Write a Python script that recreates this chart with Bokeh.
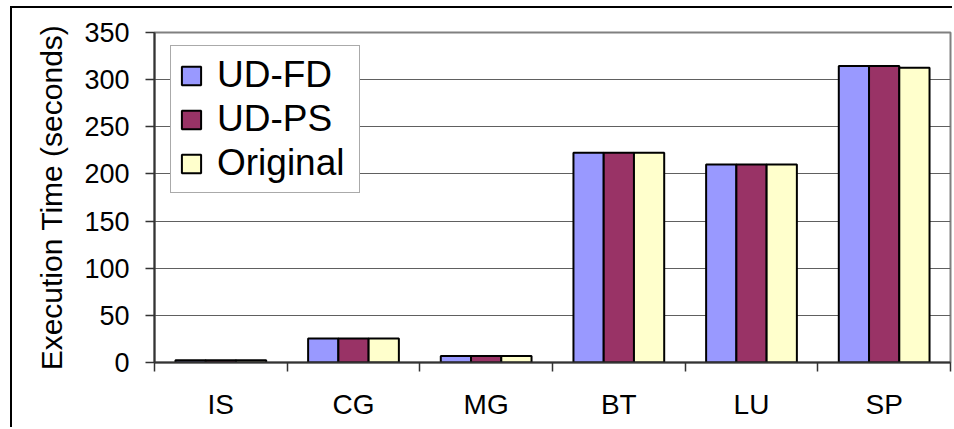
from bokeh.plotting import figure
from bokeh.models import FixedTicker, Legend, LegendItem, ColumnDataSource
from bokeh.embed import file_html
from bokeh.resources import INLINE

# NAS benchmark execution times (seconds)
benchmarks = ["IS", "CG", "MG", "BT", "LU", "SP"]
ud_fd = [2.5, 25.5, 6.8, 222.5, 210.0, 314.5]
ud_ps = [2.5, 25.5, 6.8, 222.5, 210.0, 314.5]
original = [2.5, 25.5, 6.8, 222.5, 210.0, 312.5]

series_names = ["UD-FD", "UD-PS", "Original"]
series_values = [ud_fd, ud_ps, original]
series_colors = ["#9999FF", "#993366", "#FFFFCC"]

y_ticks = [0, 50, 100, 150, 200, 250, 300, 350]

FONT = "Liberation Sans"
BAR_W = 0.228

p = figure(
    width=942, height=421,
    x_range=(0, len(benchmarks)), y_range=(0, 350),
    output_backend="svg", toolbar_location=None, tools="",
    min_border_left=142, min_border_right=4,
    min_border_top=24, min_border_bottom=67,
)
# chart area border (left and top edges visible in the window)
p.styles = {
    "margin-left": "10px", "margin-top": "6px",
    "border-left": "2px solid #000000", "border-top": "2px solid #000000",
}
p.background_fill_color = "white"
p.border_fill_color = "white"
p.outline_line_color = "#808080"
p.outline_line_width = 2

renderers = []
for k, (name, vals, col) in enumerate(zip(series_names, series_values, series_colors)):
    xs = [i + 0.5 + (k - 1) * BAR_W for i in range(len(benchmarks))]
    src = ColumnDataSource(dict(x=xs, top=vals))
    r = p.vbar(x="x", top="top", width=BAR_W, bottom=0, source=src,
               fill_color=col, line_color="black", line_width=2)
    renderers.append((name, r))

# y axis
p.yaxis.ticker = FixedTicker(ticks=y_ticks)
p.yaxis.axis_label = "Execution Time (seconds)"
p.yaxis.axis_label_text_font = FONT
p.yaxis.axis_label_text_font_size = "30px"
p.yaxis.axis_label_text_font_style = "normal"
p.yaxis.axis_label_text_color = "black"
p.yaxis.axis_label_standoff = 13
p.yaxis.major_label_text_font = FONT
p.yaxis.major_label_text_font_size = "27px"
p.yaxis.major_label_text_color = "black"
p.yaxis.major_label_standoff = 16
p.yaxis.major_tick_out = 9
p.yaxis.major_tick_in = 0
p.yaxis.minor_tick_line_color = None
p.yaxis.axis_line_color = "#333333"
p.yaxis.axis_line_width = 2
p.yaxis.major_tick_line_color = "#333333"
p.yaxis.major_tick_line_width = 1.5

# x axis: labels at category centres, ticks at category boundaries
centers = [i + 0.5 for i in range(len(benchmarks))]
bounds = list(range(len(benchmarks) + 1))
p.xaxis.ticker = FixedTicker(ticks=centers, minor_ticks=bounds)
p.xaxis.major_label_overrides = {c: b for c, b in zip(centers, benchmarks)}
p.xaxis.major_tick_line_color = None
p.xaxis.minor_tick_out = 9
p.xaxis.minor_tick_in = 0
p.xaxis.minor_tick_line_color = "#333333"
p.xaxis.minor_tick_line_width = 1.5
p.xaxis.major_label_text_font = FONT
p.xaxis.major_label_text_font_size = "28px"
p.xaxis.major_label_text_color = "black"
p.xaxis.major_label_standoff = 17
p.xaxis.axis_line_color = "#333333"
p.xaxis.axis_line_width = 2

p.xgrid.grid_line_color = None
p.ygrid.ticker = FixedTicker(ticks=y_ticks)
p.ygrid.grid_line_color = "#606060"
p.ygrid.grid_line_width = 1.2

legend = Legend(
    items=[LegendItem(label=n, renderers=[r]) for n, r in renderers],
    location=(16, 169),
    label_text_font=FONT, label_text_font_size="37px", label_text_color="black",
    glyph_width=24, glyph_height=23, label_standoff=14, label_width=134,
    padding=8, spacing=2, margin=0,
    border_line_color="#555555", border_line_width=1.5,
    background_fill_color="white", background_fill_alpha=1.0,
)
p.add_layout(legend, "center")

open("out.html", "w").write(file_html(p, INLINE))
